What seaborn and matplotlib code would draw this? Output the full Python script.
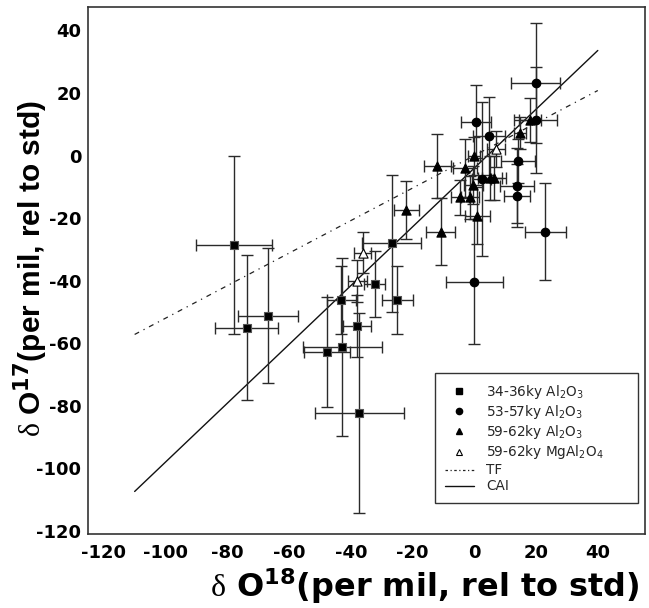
import matplotlib
matplotlib.use("Agg")
import matplotlib.pyplot as plt
from matplotlib.lines import Line2D
from matplotlib.ticker import MultipleLocator
import numpy as np
import pandas as pd
import seaborn as sns

# ---------------- data ----------------
sq_x = [-77.9, -66.8, -73.7, -43.1, -38.0, -42.7, -47.7, -37.3, -26.8, -32.3, -25.0]
sq_y = [-28.6, -51.2, -55.0, -46.2, -54.5, -61.3, -62.9, -82.4, -28.1, -41.1, -46.2]
sq_xerr = [12.3, 9.6, 10.2, 4.7, 4.4, 12.8, 7.6, 14.4, 9.7, 3.5, 5.0]
sq_yerr = [28.5, 21.6, 23.2, 11.0, 10.0, 28.5, 17.6, 32.0, 22.0, 10.5, 11.0]

ci_x = [19.9, 19.9, 0.5, 4.9, 2.4, 14.1, 13.8, 13.8, 23.0, 0.0]
ci_y = [23.1, 11.3, 10.8, 6.2, -7.6, -1.8, -9.6, -12.8, -24.3, -40.3]
ci_xerr = [8.0, 7.0, 4.8, 5.2, 3.0, 5.5, 5.5, 4.2, 6.7, 9.2]
ci_yerr = [19.2, 17.0, 11.7, 12.5, 24.6, 7.0, 12.0, 10.0, 15.4, 20.0]

tr_x = [-22.0, -12.0, -10.9, -3.0, 0.0, -0.3, -4.6, -1.4, 1.0, 5.1, 6.4, 14.8, 18.1]
tr_y = [-17.4, -3.4, -24.3, -4.1, -0.2, -9.4, -13.4, -13.4, -19.2, -7.3, -7.3, 7.3, 11.3]
tr_xerr = [4.0, 4.3, 4.7, 4.0, 2.0, 3.0, 3.0, 3.0, 4.0, 4.0, 4.0, 2.0, 3.5]
tr_yerr = [9.2, 10.3, 10.7, 9.5, 6.0, 6.0, 5.5, 7.0, 9.0, 7.0, 7.0, 5.1, 7.1]

ot_x = [-36.2, -37.9, 7.0]
ot_y = [-31.1, -40.1, 2.1]
ot_xerr = [2.8, 3.0, 2.8]
ot_yerr = [6.5, 6.7, 5.6]

group_labels = [r"34-36ky Al$_2$O$_3$", r"53-57ky Al$_2$O$_3$",
                r"59-62ky Al$_2$O$_3$", r"59-62ky MgAl$_2$O$_4$"]

# reference lines: slope, intercept, x-range
line_x = [-110, 40]
tf_slope, tf_icpt = 0.52, 0.0
cai_slope, cai_icpt = 0.94, -4.0

xticks = [-120, -100, -80, -60, -40, -20, 0, 20, 40]
yticks = [-120, -100, -80, -60, -40, -20, 0, 20, 40]

# ---------------- style ----------------
sns.set_theme(style="white")
plt.rcParams["font.family"] = ["DejaVu Sans"]
plt.rcParams["axes.unicode_minus"] = False
plt.rcParams["mathtext.fontset"] = "custom"
plt.rcParams["mathtext.rm"] = "Liberation Serif"
plt.rcParams["mathtext.sf"] = "DejaVu Sans"
plt.rcParams["mathtext.bf"] = "DejaVu Sans:bold"
plt.rcParams["mathtext.it"] = "DejaVu Sans:italic"
plt.rcParams["mathtext.default"] = "sf"

fig = plt.figure(figsize=(6.49, 6.08), dpi=100)
ax = fig.add_axes([0.1361, 0.1212, 0.8578, 0.8678])

frames = []
for lab, xs, ys in zip(group_labels, [sq_x, ci_x, tr_x, ot_x], [sq_y, ci_y, tr_y, ot_y]):
    frames.append(pd.DataFrame({"x": xs, "y": ys, "group": lab}))
df = pd.concat(frames, ignore_index=True)

# lines
lx = np.array(line_x, dtype=float)
lines_df = pd.DataFrame({
    "x": np.concatenate([lx, lx]),
    "y": np.concatenate([tf_slope * lx + tf_icpt, cai_slope * lx + cai_icpt]),
    "kind": ["TF", "TF", "CAI", "CAI"],
})
sns.lineplot(data=lines_df[lines_df.kind == "TF"], x="x", y="y", ax=ax,
             color="#222222", lw=0.9, linestyle=(0, (4, 4, 1, 4)), zorder=2)
sns.lineplot(data=lines_df[lines_df.kind == "CAI"], x="x", y="y", ax=ax,
             color="#111111", lw=1.0, zorder=2)

# error bars
for xs, ys, xe, ye in [(sq_x, sq_y, sq_xerr, sq_yerr), (ci_x, ci_y, ci_xerr, ci_yerr),
                       (tr_x, tr_y, tr_xerr, tr_yerr), (ot_x, ot_y, ot_xerr, ot_yerr)]:
    ax.errorbar(xs, ys, xerr=xe, yerr=ye, fmt="none", ecolor="#2a2a2a",
                elinewidth=1.0, capsize=4, capthick=1.0, zorder=3)

# markers
marker_specs = {
    group_labels[0]: dict(marker="s", s=36, color="black", edgecolor="#555555"),
    group_labels[1]: dict(marker="o", s=38, color="black", edgecolor="black"),
    group_labels[2]: dict(marker="^", s=44, color="black", edgecolor="black"),
    group_labels[3]: dict(marker="^", s=44, color="white", edgecolor="black"),
}
for lab in group_labels:
    sub = df[df.group == lab]
    spec = marker_specs[lab]
    sns.scatterplot(data=sub, x="x", y="y", ax=ax, marker=spec["marker"], s=spec["s"],
                    color=spec["color"], edgecolor=spec["edgecolor"], linewidth=0.8,
                    zorder=4, legend=False)

# axes
ax.set_xlim(-125, 55.3)
ax.set_ylim(-121.1, 47.6)
ax.set_xticks(xticks)
ax.set_yticks(yticks)
ax.xaxis.set_minor_locator(MultipleLocator(5))
ax.yaxis.set_minor_locator(MultipleLocator(5))
ax.tick_params(which="both", direction="in", top=False, right=False,
               color="#333333", width=1.0)
ax.tick_params(axis="x", which="major", length=14, pad=7)
ax.tick_params(axis="x", which="minor", length=7)
ax.tick_params(axis="y", which="major", length=17, pad=5)
ax.tick_params(axis="y", which="minor", length=8.5)
for lbl in ax.get_xticklabels() + ax.get_yticklabels():
    lbl.set_fontweight("bold")
    lbl.set_fontsize(13)
    lbl.set_color("black")
for sp in ax.spines.values():
    sp.set_color("#333333")
    sp.set_linewidth(1.2)

ax.set_xlabel(r"$\mathrm{\delta}$ O$^{\mathbf{18}}$(per mil, rel to std)", fontsize=23,
              fontweight="bold", loc="right", color="black")
ax.set_ylabel(r"$\mathrm{\delta}$ O$^{\mathbf{17}}$(per mil, rel to std)", fontsize=21.5,
              fontweight="bold", loc="bottom", color="black",
              family=["Liberation Sans", "DejaVu Sans"])
ax.xaxis.set_label_coords(0.991, -0.060)
ax.yaxis.set_label_coords(-0.069, 0.184)

# legend
handles = [
    Line2D([], [], ls="none", marker="s", ms=4.5, mfc="black", mec="black"),
    Line2D([], [], ls="none", marker="o", ms=4.5, mfc="black", mec="black"),
    Line2D([], [], ls="none", marker="^", ms=4.5, mfc="black", mec="black"),
    Line2D([], [], ls="none", marker="^", ms=4.5, mfc="white", mec="black", mew=0.8),
    Line2D([], [], color="#222222", lw=0.9, ls=(0, (2, 2, 1, 2))),
    Line2D([], [], color="#111111", lw=1.0),
]
leg_labels = group_labels + ["TF", "CAI"]
leg = ax.legend(handles, leg_labels, loc="lower left",
                bbox_to_anchor=(0.623, 0.059, 0.364, 0.252), mode="expand",
                fontsize=9.8, frameon=True, fancybox=False, shadow=False,
                handlelength=2.1, handletextpad=0.95, labelspacing=0.15,
                borderpad=0.72, borderaxespad=0.0)
leg.get_frame().set_edgecolor("#333333")
leg.get_frame().set_linewidth(1.0)
leg.get_frame().set_facecolor("white")
leg.get_frame().set_alpha(1.0)

fig.savefig("out.png", dpi=100)
